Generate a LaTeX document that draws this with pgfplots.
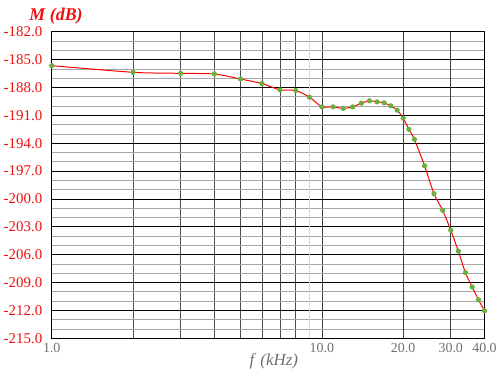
\documentclass[border=0pt]{standalone}
\usepackage{fontspec}
\setmainfont{Liberation Serif}
\usepackage{pgfplots}
\pgfplotsset{compat=1.18}
\definecolor{tickred}{HTML}{F01010}
\definecolor{mkgreen}{HTML}{6DAE3E}
\definecolor{lblgray}{HTML}{707070}
\begin{document}
\begin{tikzpicture}
\begin{axis}[
  at={(0,0)}, anchor=south west,
  scale only axis, width=435bp, height=308bp,
  xmode=log, xmin=1, xmax=40, ymin=-215, ymax=-182,
  xtick={1,10,40}, xticklabels={1.0,10.0,40.0},
  extra x ticks={20,30}, extra x tick labels={20.0,30.0},
  extra x tick style={grid=major, major grid style={gray!60, line width=0.8pt}},
  minor xtick={2,3,4,5,6,7,8},
  ytick={-215,-212,...,-182},
  minor ytick={-215,-214,...,-182},
  grid=both,
  major x grid style={black!75, line width=0.6pt},
  minor x grid style={black!70, line width=0.6pt},
  major y grid style={black, line width=0.8pt},
  minor y grid style={gray!70, line width=0.7pt},
  major tick length=0pt, minor tick length=0pt,
  axis line style={black, line width=1pt},
  /pgf/number format/assume math mode=true,
  yticklabel style={/pgf/number format/fixed, /pgf/number format/fixed zerofill, /pgf/number format/precision=1},
  yticklabel style={font=\fontsize{15bp}{17bp}\selectfont, text=tickred, xshift=-6bp},
  xticklabel style={font=\fontsize{14bp}{16bp}\selectfont, text=lblgray, yshift=-1bp},
  xlabel={\textit{f} \textit{(kHz)}},
  xlabel style={font=\fontsize{17bp}{19bp}\selectfont, text=lblgray, at={(axis description cs:0.513,0)}, anchor=north, yshift=-12bp},
  ylabel={\textbf{\textit{M (dB)}}},
  ylabel style={font=\fontsize{18bp}{20bp}\selectfont, text=tickred, rotate=-90, at={(axis description cs:0.01,1)}, anchor=center, yshift=16bp},
  clip=false,
]
\draw[gray!30, line width=0.8pt] (axis cs:9,-215) -- (axis cs:9,-182);
\addplot[red, line width=1pt, smooth, tension=0.4, mark=*, mark size=2.1bp,
  mark options={fill=mkgreen, draw=mkgreen}] coordinates {
(1,-185.64) (2,-186.36) (3,-186.47) (4,-186.54) (5,-187.08) (6,-187.57)
(7,-188.25) (8,-188.32) (9,-189.04) (10,-190.08) (11,-190.08) (12,-190.25)
(13,-190.08) (14,-189.68) (15,-189.43) (16,-189.54) (17,-189.65) (18,-189.97)
(19,-190.43) (20,-191.29) (21,-192.5) (22,-193.57) (24,-196.43) (26,-199.43)
(28,-201.22) (30,-203.36) (32,-205.61) (34,-207.93) (36,-209.47) (38,-210.86)
(40,-212.04)
};
\end{axis}
\path[use as bounding box] (-52bp,-40bp) rectangle (448bp,340bp);
\end{tikzpicture}
\end{document}
